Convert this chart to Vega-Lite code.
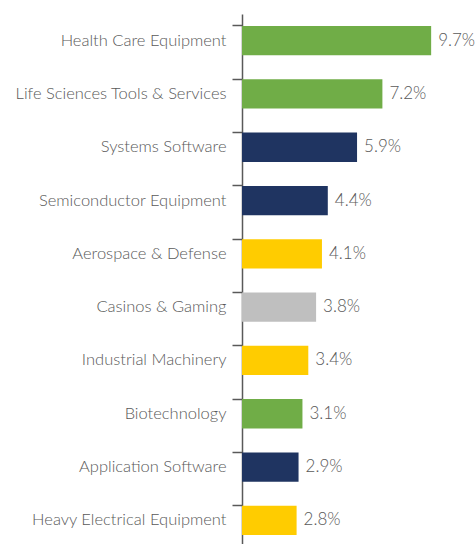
{
  "$schema": "https://vega.github.io/schema/vega-lite/v6.json",
  "autosize": "none",
  "padding": {"left": 242, "top": 14, "right": 0, "bottom": 0},
  "width": 234,
  "height": 533,
  "background": "white",
  "config": {"view": {"stroke": null}},
  "data": {"values": [
    {"industry": "Health Care Equipment", "value": 0.097, "group": "green"},
    {"industry": "Life Sciences Tools & Services", "value": 0.072, "group": "green"},
    {"industry": "Systems Software", "value": 0.059, "group": "navy"},
    {"industry": "Semiconductor Equipment", "value": 0.044, "group": "navy"},
    {"industry": "Aerospace & Defense", "value": 0.041, "group": "yellow"},
    {"industry": "Casinos & Gaming", "value": 0.038, "group": "gray"},
    {"industry": "Industrial Machinery", "value": 0.034, "group": "yellow"},
    {"industry": "Biotechnology", "value": 0.031, "group": "green"},
    {"industry": "Application Software", "value": 0.029, "group": "navy"},
    {"industry": "Heavy Electrical Equipment", "value": 0.028, "group": "yellow"}
  ]},
  "encoding": {
    "y": {
      "field": "industry", "type": "nominal", "sort": null,
      "scale": {"paddingInner": 0.45, "paddingOuter": 0.225},
      "axis": {
        "title": null, "bandPosition": 0, "tickSize": 10, "tickColor": "#595959", "tickWidth": 1.5,
        "domainColor": "#595959", "domainWidth": 1.5, "labelPadding": 6,
        "labelFont": "Lato", "labelFontWeight": 300, "labelFontSize": 16.5, "labelColor": "#595959",
        "labelLimit": 300
      }
    },
    "x": {"field": "value", "type": "quantitative", "scale": {"domain": [0, 0.12]}, "axis": null}
  },
  "layer": [
    {
      "mark": {"type": "bar"},
      "encoding": {
        "color": {"field": "group", "type": "nominal", "legend": null,
          "scale": {"domain": ["green", "navy", "yellow", "gray"], "range": ["#70AD47", "#1F3461", "#FFCC00", "#BFBFBF"]}}
      }
    },
    {
      "mark": {"type": "text", "align": "left", "dx": 7, "font": "Lato", "fontWeight": 300, "fontSize": 17, "color": "#595959"},
      "encoding": {"text": {"field": "value", "type": "quantitative", "format": ".1%"}}
    }
  ]
}
